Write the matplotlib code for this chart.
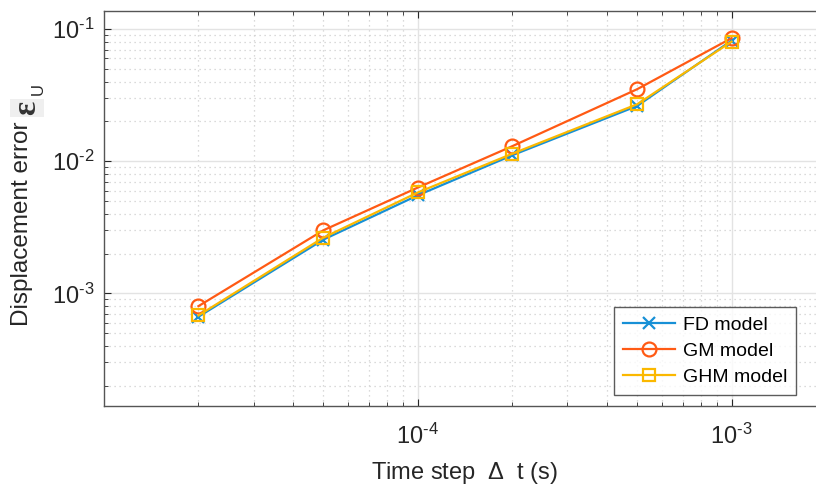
import matplotlib
matplotlib.use("Agg")
import matplotlib.pyplot as plt
from matplotlib.ticker import LogLocator, NullFormatter, FixedLocator

plt.rcParams['font.family'] = ['Liberation Sans', 'DejaVu Sans']
plt.rcParams['mathtext.fontset'] = 'custom'
plt.rcParams['mathtext.rm'] = 'Liberation Sans'
plt.rcParams['mathtext.it'] = 'Liberation Sans:italic'

dt = [2e-5, 5e-5, 1e-4, 2e-4, 5e-4, 1e-3]
fd = [6.65e-4, 2.55e-3, 5.52e-3, 1.11e-2, 2.62e-2, 8.2e-2]
gm = [8.0e-4, 3.0e-3, 6.32e-3, 1.30e-2, 3.51e-2, 8.55e-2]
ghm = [6.8e-4, 2.64e-3, 5.80e-3, 1.14e-2, 2.70e-2, 8.05e-2]
labels = ['FD model', 'GM model', 'GHM model']
xticks = [1e-4, 1e-3]
yticks = [1e-3, 1e-2, 1e-1]
xtick_labels = [r'$\mathdefault{10^{\text{-}4}}$', r'$\mathdefault{10^{\text{-}3}}$']
ytick_labels = [r'$\mathdefault{10^{\text{-}3}}$', r'$\mathdefault{10^{\text{-}2}}$',
                r'$\mathdefault{10^{\text{-}1}}$']

c_fd = '#1790d6'
c_gm = '#ff5a14'
c_ghm = '#fbb800'
dark = '#262626'

fig = plt.figure(figsize=(8.16, 4.87), dpi=100)
W, H = 816, 487
ax = fig.add_axes([104 / W, (H - 405.7) / H, (826 - 104) / W, (405.7 - 10.7) / H])

ax.plot(dt, fd, '-x', color=c_fd, lw=1.6, ms=8, mew=1.6, label=labels[0])
ax.plot(dt, gm, '-o', color=c_gm, lw=1.6, ms=10, mew=1.6, mfc='none', label=labels[1])
ax.plot(dt, ghm, '-s', color=c_ghm, lw=1.6, ms=8, mew=1.6, mfc='none', label=labels[2])

ax.set_xscale('log')
ax.set_yscale('log')
ax.set_xlim(1e-5, 2e-3)
ax.set_ylim(1.41e-4, 0.138)

ax.xaxis.set_major_locator(FixedLocator(xticks))
ax.yaxis.set_major_locator(FixedLocator(yticks))
ax.xaxis.set_minor_locator(LogLocator(base=10, subs=range(2, 10), numticks=20))
ax.yaxis.set_minor_locator(LogLocator(base=10, subs=range(2, 10), numticks=20))
ax.xaxis.set_minor_formatter(NullFormatter())
ax.yaxis.set_minor_formatter(NullFormatter())
ax.set_xticklabels(xtick_labels)
ax.set_yticklabels(ytick_labels)

ax.grid(True, which='major', color='#e3e3e3', lw=1.0, ls='-')
ax.grid(True, which='minor', color='#cfcfcf', lw=0.9, ls=(0, (1, 3)))
ax.set_axisbelow(True)

ax.tick_params(which='both', direction='in', top=True, right=False, color=dark,
               labelcolor=dark)
ax.tick_params(which='major', length=5, labelsize=17)
ax.tick_params(which='minor', length=3)
ax.tick_params(axis='x', which='major', pad=13)
ax.tick_params(axis='y', which='major', pad=7)

for s in ['left', 'bottom', 'top']:
    ax.spines[s].set_color('#555555')
    ax.spines[s].set_linewidth(1.0)
ax.spines['right'].set_visible(False)

ax.set_xlabel(r'Time step  $\Delta$  t (s)', fontsize=17, color=dark, labelpad=8)

# y label: text plus a larger epsilon with subscript U
fig.text(11 / W, 1 - 326 / H, 'Displacement error', rotation=90, fontsize=17.5,
         color=dark, ha='left', va='bottom')
fig.text(27 / W, 1 - 108 / H, 'ε', rotation=90, fontsize=24, fontweight='bold',
         family='Liberation Serif', color='#333333', ha='center', va='center',
         bbox=dict(boxstyle='square,pad=0.05', fc='#efefef', ec='none'))
fig.text(38 / W, 1 - 89 / H, 'U', rotation=90, fontsize=12, color=dark,
         ha='center', va='center')

leg = ax.legend(loc='lower right', bbox_to_anchor=(796 / W, 1 - 395 / H),
                bbox_transform=fig.transFigure, fontsize=14, frameon=True,
                fancybox=False, edgecolor='#333333', handlelength=2.7,
                borderpad=0.45, labelspacing=0.45, handletextpad=0.4,
                borderaxespad=0)
leg.get_frame().set_linewidth(1.0)
for t in leg.get_texts():
    t.set_color('black')

fig.savefig('out.png', dpi=100)
